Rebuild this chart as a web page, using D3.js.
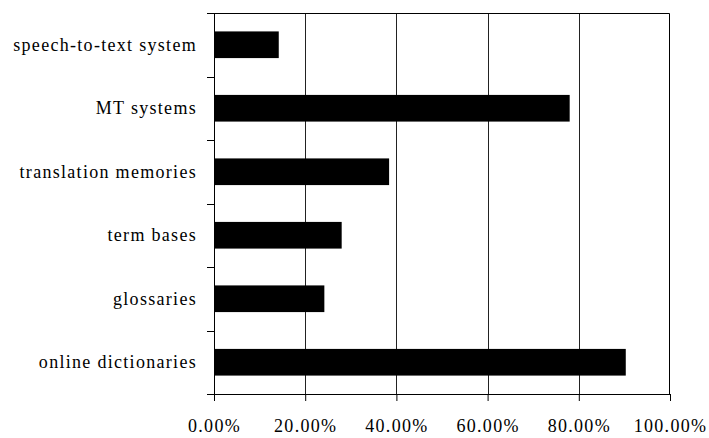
<!DOCTYPE html>
<html>
<head>
<meta charset="utf-8">
<script src="https://cdn.jsdelivr.net/npm/d3@7"></script>
<style>
  body { margin: 0; background: #fff; }
  svg text { font-family: "Liberation Serif", "Times New Roman", Times, serif; font-size: 18px; letter-spacing: 1.3px; fill: #000; }
</style>
</head>
<body>
<div class="chart"></div>
<script>
// data
var categories = ["speech-to-text system", "MT systems", "translation memories",
  "term bases", "glossaries", "online dictionaries"];
var shares = [0.142, 0.780, 0.384, 0.280, 0.242, 0.903];
var xTicks = [0, 0.2, 0.4, 0.6, 0.8, 1.0];

var svgWidth = 709;
var svgHeight = 438;

var margin = { top: 13, right: 39, bottom: 44, left: 214 };
var width = svgWidth - margin.left - margin.right;
var height = svgHeight - margin.top - margin.bottom;

var svg = d3.select(".chart")
  .append("svg")
  .attr("width", svgWidth)
  .attr("height", svgHeight);

var chartGroup = svg.append("g")
  .attr("transform", `translate(${margin.left}, ${margin.top})`);

var xScale = d3.scaleLinear()
  .domain([0, 1])
  .range([0, width]);

var yScale = d3.scaleBand()
  .domain(categories)
  .range([0, height])
  .paddingInner(0.58)
  .paddingOuter(0.29);

// vertical gridlines
chartGroup.selectAll(".grid")
  .data(xTicks.slice(1, -1))
  .enter()
  .append("line")
  .attr("x1", d => Math.round(xScale(d)) + 0.5)
  .attr("x2", d => Math.round(xScale(d)) + 0.5)
  .attr("y1", 0)
  .attr("y2", height)
  .attr("stroke", "#222")
  .attr("stroke-width", 1);

// bars
chartGroup.selectAll(".bar")
  .data(categories)
  .enter()
  .append("rect")
  .attr("x", 0)
  .attr("y", d => yScale(d))
  .attr("width", (d, i) => xScale(shares[i]))
  .attr("height", yScale.bandwidth())
  .attr("fill", "#000");

// frame (top and right)
chartGroup.append("path")
  .attr("d", `M0,0.5H${width - 0.5}V${height}`)
  .attr("fill", "none")
  .attr("stroke", "#000");

// x axis
var bottomAxis = d3.axisBottom(xScale)
  .tickValues(xTicks)
  .tickSize(7)
  .tickPadding(18)
  .tickFormat(d => (d * 100).toFixed(2) + "%");

var xAxis = chartGroup.append("g")
  .attr("transform", `translate(0, ${height})`)
  .call(bottomAxis);
xAxis.attr("font-family", null).attr("font-size", null);
xAxis.select(".domain").attr("stroke", "#000");

// y axis: ticks sit between the categories
var step = yScale.step();
var yTickPos = d3.range(categories.length + 1).map(i => i * step);

var yAxis = chartGroup.append("g");
yAxis.append("line")
  .attr("x1", 0.5).attr("x2", 0.5)
  .attr("y1", 0).attr("y2", height)
  .attr("stroke", "#000");
yAxis.selectAll(".ytick")
  .data(yTickPos)
  .enter()
  .append("line")
  .attr("x1", -7).attr("x2", 0)
  .attr("y1", d => Math.round(d) + 0.5)
  .attr("y2", d => Math.round(d) + 0.5)
  .attr("stroke", "#000");

yAxis.selectAll(".ylabel")
  .data(categories)
  .enter()
  .append("text")
  .attr("x", -17)
  .attr("y", d => yScale(d) + yScale.bandwidth() / 2)
  .attr("dy", "0.33em")
  .attr("text-anchor", "end")
  .text(d => d);
</script>
</body>
</html>
